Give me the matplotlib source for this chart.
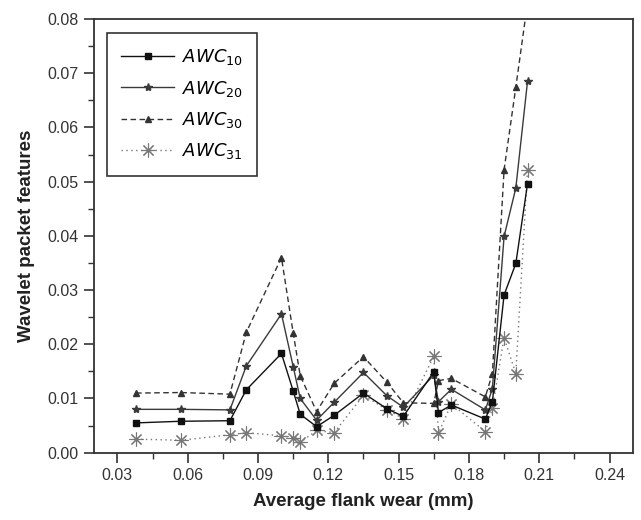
import matplotlib.pyplot as plt
from matplotlib.ticker import MultipleLocator

# flank wear (mm) at each measurement
wear = [0.038, 0.057, 0.078, 0.085, 0.100, 0.105, 0.108, 0.115, 0.1225, 0.135,
        0.145, 0.152, 0.165, 0.167, 0.1725, 0.187, 0.190, 0.195, 0.200, 0.205]

awc10 = [0.0055, 0.0058, 0.0059, 0.0116, 0.0183, 0.0114, 0.0071, 0.0048, 0.0069, 0.0110,
         0.0081, 0.0067, 0.0149, 0.0074, 0.0088, 0.0062, 0.0094, 0.0291, 0.0349, 0.0496]
awc20 = [0.0080, 0.0080, 0.0079, 0.0160, 0.0256, 0.0159, 0.0100, 0.0060, 0.0093, 0.0148,
         0.0105, 0.0084, 0.0143, 0.0094, 0.0117, 0.0079, 0.0118, 0.0399, 0.0488, 0.0685]
awc30 = [0.0110, 0.0111, 0.0108, 0.0222, 0.0360, 0.0221, 0.0142, 0.0076, 0.0128, 0.0177,
         0.0130, 0.0092, 0.0091, 0.0133, 0.0137, 0.0103, 0.0146, 0.0522, 0.0674, 0.0830]
awc31 = [0.0025, 0.0023, 0.0033, 0.0037, 0.0031, 0.0028, 0.0019, 0.0041, 0.0037, 0.0106,
         0.0079, 0.0063, 0.0178, 0.0036, 0.0090, 0.0039, 0.0082, 0.0212, 0.0146, 0.0522]

plt.rcParams['font.family'] = ['Liberation Sans', 'DejaVu Sans']

fig = plt.figure(figsize=(6.41, 5.2), dpi=100)
ax = fig.add_axes([0.1466, 0.1294, 0.8409, 0.8341])

ax.plot(wear, awc10, color="#111111", lw=1.0, marker="s", ms=4.5,
        label="$\\mathit{AWC}_{10}$", zorder=4)
ax.plot(wear, awc20, color="#3a3a3a", lw=1.0, marker="*", ms=6,
        label="$\\mathit{AWC}_{20}$", zorder=3)
ax.plot(wear, awc30, color="#333333", lw=1.0, ls=(0, (4, 2.5)), marker="^", ms=5,
        label="$\\mathit{AWC}_{30}$", zorder=2)
ax.plot(wear, awc31, color="#777777", lw=1.0, ls=(0, (1, 2.5)), marker=(8, 2, 0),
        ms=10, mew=0.8, label="$\\mathit{AWC}_{31}$", zorder=1)

ax.set_xlim(0.02, 0.25)
ax.set_ylim(0.0, 0.08)
ax.set_xticks([0.03, 0.06, 0.09, 0.12, 0.15, 0.18, 0.21, 0.24])
ax.xaxis.set_minor_locator(MultipleLocator(0.015))
ax.yaxis.set_major_locator(MultipleLocator(0.01))
ax.yaxis.set_minor_locator(MultipleLocator(0.005))
ax.xaxis.set_major_formatter(plt.FuncFormatter(lambda v, p: f"{v:.2f}"))
ax.yaxis.set_major_formatter(plt.FuncFormatter(lambda v, p: f"{v:.2f}"))

ax.tick_params(which="major", direction="out", length=7, width=1.2,
               labelsize=11.5, colors="#333333", labelcolor="#333333", pad=4)
ax.tick_params(which="minor", direction="out", length=4, width=1.0, colors="#333333")
for s in ax.spines.values():
    s.set_linewidth(1.3)
    s.set_color("#333333")

ax.set_xlabel("Average flank wear (mm)", fontsize=13.5, fontweight="bold",
              color="#222222", labelpad=7)
ax.set_ylabel("Wavelet packet features", fontsize=13.5, fontweight="bold",
              color="#222222", labelpad=9)

leg = ax.legend(loc="upper left", bbox_to_anchor=(0.024, 0.968),
                borderaxespad=0, fontsize=13, handlelength=2.9,
                handletextpad=0.45, labelspacing=0.63, borderpad=0.8,
                fancybox=False, framealpha=1)
leg.get_frame().set_edgecolor("#333333")
leg.get_frame().set_linewidth(1.2)

fig.savefig("out.png", dpi=100)
